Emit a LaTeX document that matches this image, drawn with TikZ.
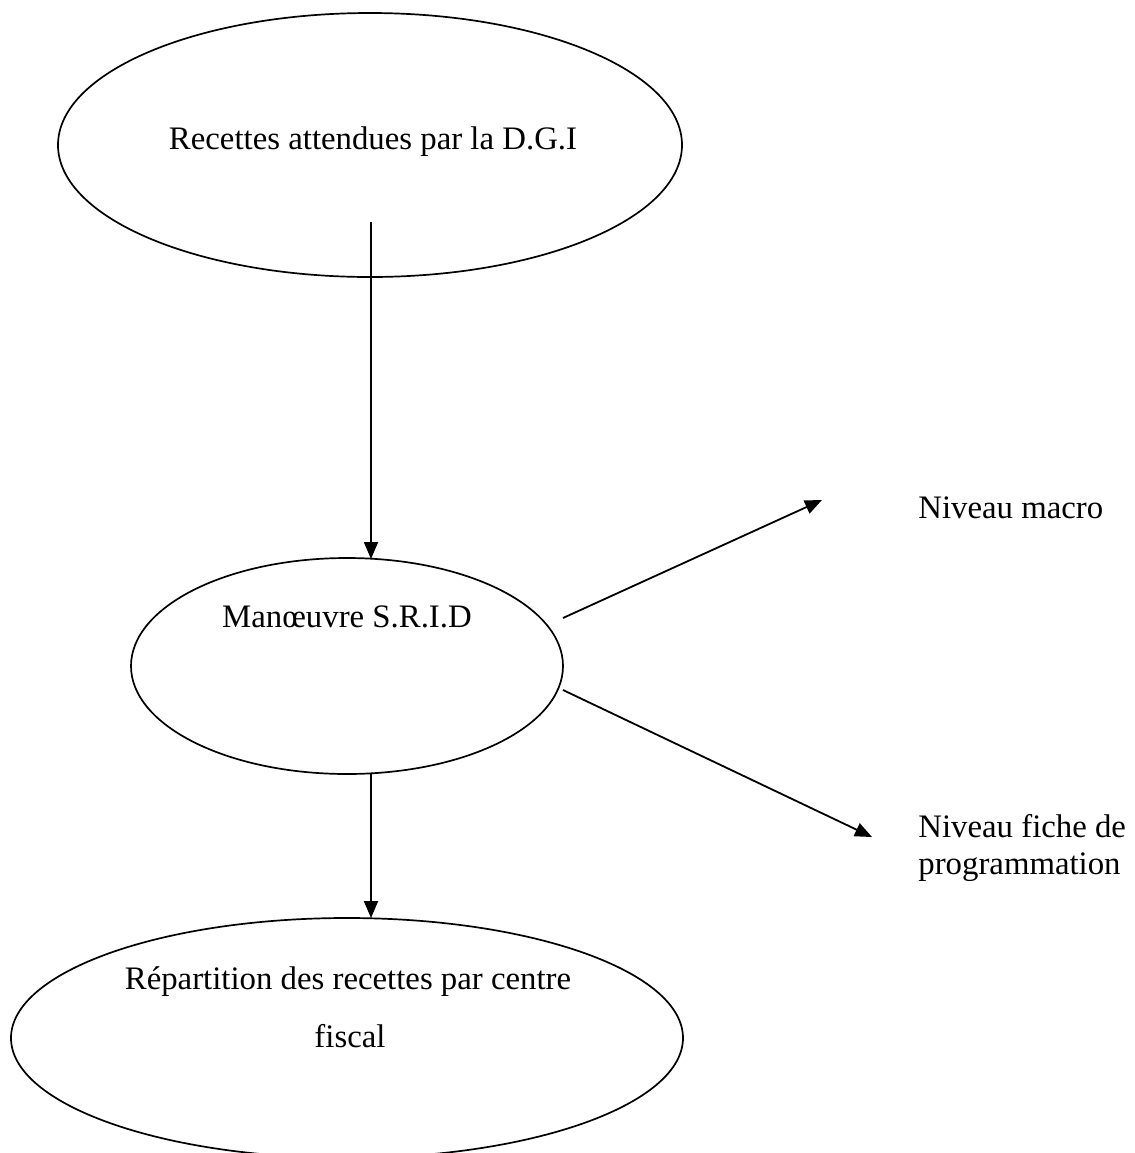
\documentclass[tikz,border=0pt]{standalone}
\usepackage{fontspec}
\setmainfont{Liberation Serif}
\usetikzlibrary{shapes.geometric,arrows.meta}
\begin{document}
\begin{tikzpicture}[x=0.5pt,y=-0.5pt,
  oval/.style={draw,ellipse,line width=0.85pt,inner sep=0pt,outer sep=0pt},
  lbl/.style={font=\fontsize{16.4pt}{18.5pt}\selectfont,inner sep=0pt},
  arr/.style={-{Triangle[length=8.5pt,width=7pt]},line width=0.9pt}]
\useasboundingbox (0,0) rectangle (1135,1153);
\clip (0,0) rectangle (1135,1153);
% ellipses
\node[oval,minimum width=312pt,minimum height=132pt] (e1) at (370,145) {};
\node[oval,minimum width=216pt,minimum height=108pt] (e2) at (347,666) {};
\node[oval,minimum width=336pt,minimum height=120pt] (e3) at (347,1038) {};
% texts
\node[lbl] (t1) at (373,142) {Recettes attendues par la D.G.I};
\node[lbl] (t2) at (347,617) {Manœuvre S.R.I.D};
\node[lbl] (t3a) at (348,982) {Répartition des recettes par centre};
\node[lbl] (t3b) at (350,1036) {fiscal};
\node[lbl,anchor=west] (macro) at (918,508) {Niveau macro};
\node[lbl,anchor=west,align=left] (fiche) at (918,848) {Niveau fiche de\\programmation};
% connector ends
\coordinate (a1s) at (371,222);
\coordinate (a1e) at (371,559);
\coordinate (a2s) at (371,774);
\coordinate (a2e) at (371,918);
\coordinate (a3s) at (563,618);
\coordinate (a3e) at (822,500);
\coordinate (a4s) at (563,690);
\coordinate (a4e) at (872,837);
\draw[arr] (a1s) -- (a1e);
\draw[arr] (a2s) -- (a2e);
\draw[arr] (a3s) -- (a3e);
\draw[arr] (a4s) -- (a4e);
\end{tikzpicture}
\end{document}
